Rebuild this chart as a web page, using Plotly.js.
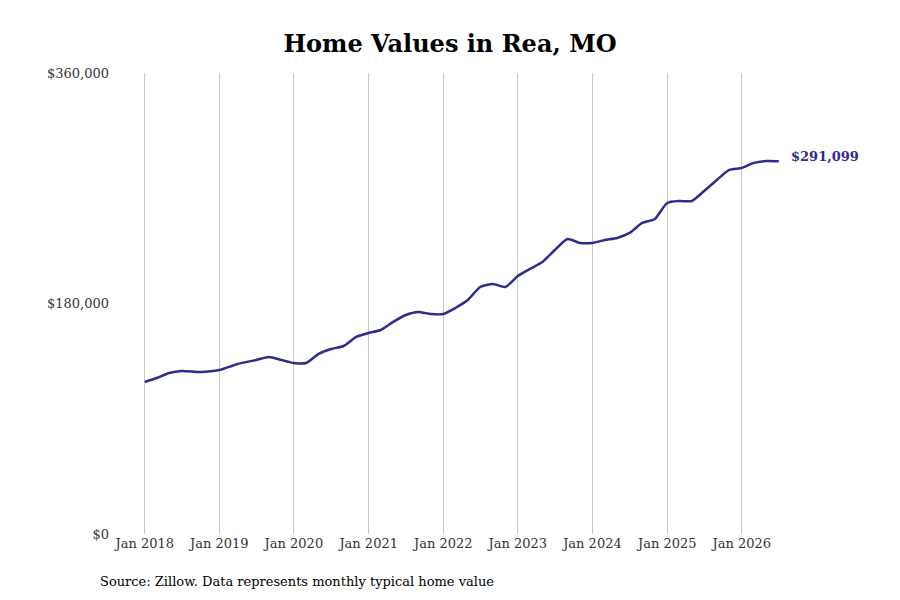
<!DOCTYPE html>
<html>
<head>
<script src="https://cdn.plot.ly/plotly-3.0.1.min.js"></script>
<style>body{margin:0;background:#fff}</style>
</head>
<body>
<div id="chart" style="width:900px;height:600px"></div>
<script>
// values, roughly every two months
const dates = ['2018-01-01','2018-03-01','2018-05-01','2018-07-01','2018-10-01','2019-01-01','2019-04-01','2019-07-01','2019-09-01','2019-11-01',
  '2020-01-01','2020-03-01','2020-05-01','2020-07-01','2020-09-01','2020-11-01','2021-01-01','2021-03-01','2021-05-01','2021-07-01','2021-09-01','2021-11-01',
  '2022-01-01','2022-03-01','2022-05-01','2022-07-01','2022-09-01','2022-11-01','2023-01-01','2023-03-01','2023-05-01','2023-07-01','2023-09-01','2023-11-01',
  '2024-01-01','2024-03-01','2024-05-01','2024-07-01','2024-09-01','2024-11-01','2025-01-01','2025-03-01','2025-05-01','2025-07-01','2025-09-01','2025-11-01',
  '2026-01-01','2026-03-01','2026-05-01','2026-07-01'];
const values = [118700,121800,125700,127300,126500,128000,132800,135900,138200,135900,
  133500,133500,140600,144500,146800,153900,157000,159300,165600,171000,173400,171800,
  171800,176500,182700,192900,195300,192900,201500,207000,212400,221800,230400,227300,
  227300,229600,231200,235100,242900,246000,258500,260000,260000,267900,276500,284300,
  285800,289800,291300,291099];
const tickVals = ['2018-01-01','2019-01-01','2020-01-01','2021-01-01','2022-01-01','2023-01-01','2024-01-01','2025-01-01','2026-01-01'];
const tickText = ['Jan 2018','Jan 2019','Jan 2020','Jan 2021','Jan 2022','Jan 2023','Jan 2024','Jan 2025','Jan 2026'];
const lineColor = '#2e2d8c';

let data = [{
    type: 'scatter',
    mode: 'lines',
    x: dates,
    y: values,
    line: {color: lineColor, width: 2.5, shape: 'spline', smoothing: 0.6},
    hoverinfo: 'skip'
}];

let layout = {
    width: 900,
    height: 600,
    margin: {l: 110, r: 110, t: 73, b: 66},
    font: {family: 'DejaVu Serif, serif', color: '#333', size: 13},
    title: {text: '<b>Home Values in Rea, MO</b>', x: 0.5, y: 0.927, yanchor: 'middle', font: {size: 24, color: '#000'}},
    showlegend: false,
    xaxis: {
        type: 'date',
        range: ['2017-07-15', '2026-08-25'],
        tickvals: tickVals,
        ticktext: tickText,
        showgrid: true,
        gridcolor: '#c8c8c8',
        zeroline: false,
        showline: false,
        ticks: '',
        tickfont: {size: 13}
    },
    yaxis: {
        range: [0, 360000],
        tickvals: [0, 180000, 360000],
        ticktext: ['$0', '$180,000', '$360,000'],
        showgrid: false,
        zeroline: false,
        ticks: '',
        tickfont: {size: 13}
    },
    annotations: [{
        x: dates[dates.length - 1],
        y: values[values.length - 1],
        text: '<b>$291,099</b>',
        showarrow: false,
        xanchor: 'left',
        xshift: 10,
        yshift: 5,
        font: {size: 13, color: lineColor}
    }, {
        xref: 'paper', yref: 'paper',
        x: -0.017, y: -0.104,
        xanchor: 'left', yanchor: 'middle',
        text: 'Source: Zillow. Data represents monthly typical home value',
        showarrow: false,
        font: {size: 13, color: '#000'}
    }]
};

Plotly.newPlot('chart', data, layout, {displayModeBar: false});
</script>
</body>
</html>
